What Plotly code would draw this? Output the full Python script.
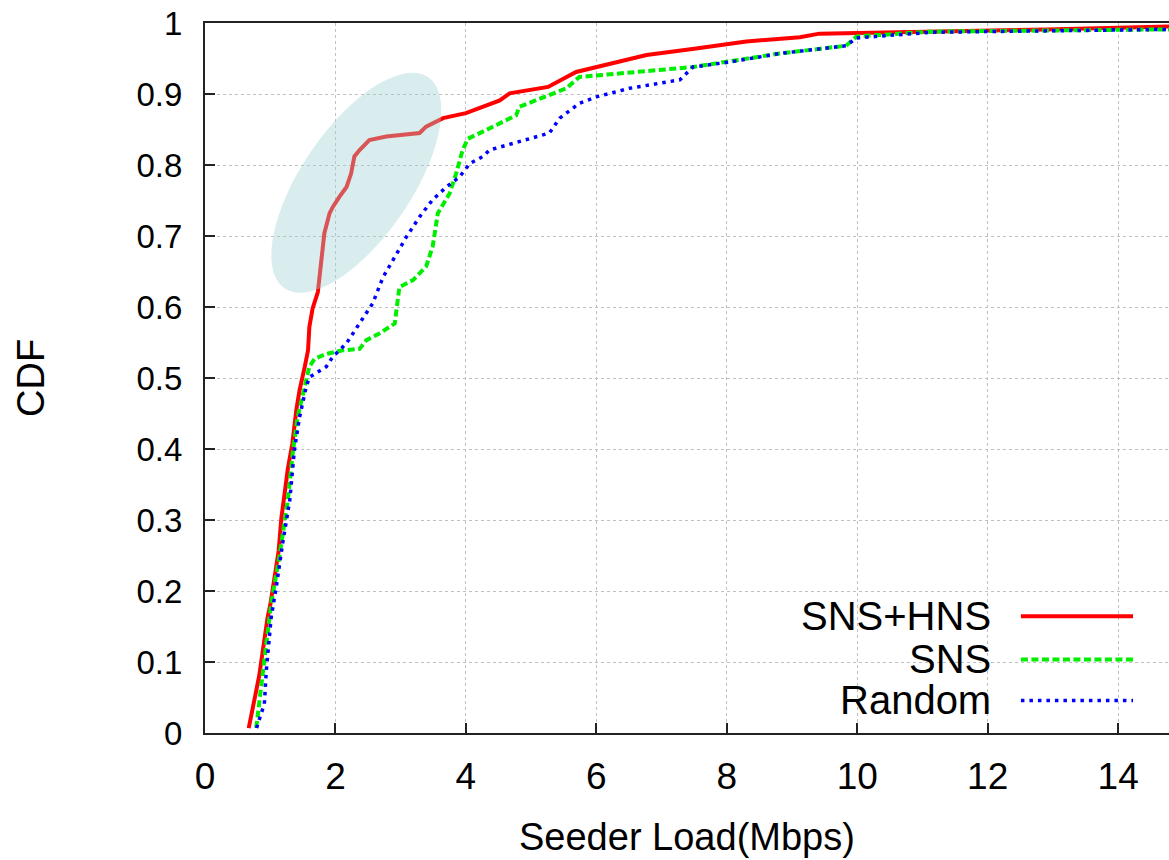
import numpy as np
import plotly.graph_objects as go

# ---- data ----
red_x = [0.67, 0.81, 0.83, 0.96, 1.00, 1.13, 1.17, 1.27, 1.34, 1.40, 1.45, 1.53, 1.58, 1.60, 1.65, 1.73,
         1.78, 1.83, 1.91, 1.96, 2.06, 2.17, 2.24, 2.29, 2.37, 2.52, 2.78, 3.29, 3.39, 3.65, 4.0, 4.21,
         4.52, 4.67, 5.26, 5.69, 6.0, 6.77, 7.53, 8.30, 9.12, 9.42, 10.01, 11.37, 12.9, 14.78]
red_y = [0.007, 0.074, 0.08, 0.163, 0.18, 0.257, 0.302, 0.372, 0.408, 0.455, 0.483, 0.516, 0.539, 0.572,
         0.598, 0.621, 0.657, 0.704, 0.732, 0.741, 0.755, 0.769, 0.788, 0.812, 0.821, 0.835, 0.840, 0.845,
         0.854, 0.866, 0.873, 0.880, 0.891, 0.901, 0.910, 0.931, 0.938, 0.955, 0.964, 0.974, 0.980, 0.985,
         0.986, 0.988, 0.991, 0.995]

green_x = [0.785, 0.86, 0.94, 1.015, 1.14, 1.27, 1.35, 1.42, 1.50, 1.55, 1.60, 1.68, 1.86, 2.11, 2.37, 2.47,
           2.68, 2.91, 2.98, 3.19, 3.39, 3.49, 3.57, 3.75, 3.85, 3.95, 4.03, 4.26, 4.52, 4.77, 4.82, 5.23,
           5.54, 5.74, 6.77, 7.48, 8.81, 9.83, 9.99, 11.16, 14.78]
green_y = [0.007, 0.069, 0.126, 0.182, 0.248, 0.328, 0.398, 0.445, 0.478, 0.499, 0.516, 0.527, 0.534, 0.539,
           0.541, 0.553, 0.563, 0.577, 0.628, 0.638, 0.657, 0.685, 0.732, 0.760, 0.788, 0.821, 0.837, 0.847,
           0.859, 0.870, 0.882, 0.896, 0.908, 0.924, 0.933, 0.938, 0.957, 0.968, 0.981, 0.988, 0.991]

blue_x = [0.79, 0.91, 0.94, 1.015, 1.10, 1.19, 1.30, 1.37, 1.45, 1.50, 1.55, 1.60, 1.86, 1.96, 2.17, 2.37,
          2.57, 2.73, 2.93, 3.09, 3.29, 3.49, 3.70, 3.90, 4.06, 4.26, 4.36, 4.72, 5.28, 5.44, 5.74, 6.0,
          6.51, 7.28, 7.48, 8.04, 8.81, 9.83, 9.99, 11.16, 14.78]
blue_y = [0.007, 0.041, 0.088, 0.163, 0.210, 0.267, 0.328, 0.398, 0.445, 0.469, 0.487, 0.501, 0.516, 0.530,
          0.549, 0.577, 0.605, 0.642, 0.675, 0.699, 0.727, 0.751, 0.769, 0.783, 0.802, 0.812, 0.821, 0.830,
          0.845, 0.866, 0.887, 0.896, 0.908, 0.920, 0.938, 0.945, 0.957, 0.968, 0.979, 0.987, 0.991]

series_names = ["SNS+HNS", "SNS", "Random"]
x_ticks = [0, 2, 4, 6, 8, 10, 12, 14]
y_ticks = [0, 0.1, 0.2, 0.3, 0.4, 0.5, 0.6, 0.7, 0.8, 0.9, 1]
x_title = "Seeder Load(Mbps)"
y_title = "CDF"

# ---- layout geometry ----
W, H = 1169, 860
ML, MR, MT, MB = 205, 0, 23, 127
X_RANGE = [0, 14.78]
Y_RANGE = [0, 1]
plot_w = W - ML - MR
plot_h = H - MT - MB
px_per_x = plot_w / (X_RANGE[1] - X_RANGE[0])
px_per_y = plot_h / (Y_RANGE[1] - Y_RANGE[0])

FONT = "Liberation Sans, Arial, Helvetica, sans-serif"
RED_LINE = dict(color="#ff0000", width=4)
GREEN_LINE = dict(color="#00ee00", width=4, dash="7px,3.5px")
BLUE_LINE = dict(color="#0000ff", width=3.5, dash="3.5px,5px")

fig = go.Figure()
fig.add_trace(go.Scatter(x=red_x, y=red_y, mode="lines", name=series_names[0],
                         line=RED_LINE, showlegend=False))
fig.add_trace(go.Scatter(x=green_x, y=green_y, mode="lines", name=series_names[1],
                         line=GREEN_LINE, showlegend=False))
fig.add_trace(go.Scatter(x=blue_x, y=blue_y, mode="lines", name=series_names[2],
                         line=BLUE_LINE, showlegend=False))

# ---- highlight ellipse (rotated) ----
ell_cx, ell_cy = 2.32, 0.775        # data coords
ell_a_px, ell_b_px, ell_deg = 127.6, 55.1, 55.8
t = np.linspace(0, 2 * np.pi, 121)
th = np.deg2rad(ell_deg)
ex = ell_a_px * np.cos(t) * np.cos(th) - ell_b_px * np.sin(t) * np.sin(th)
ey = ell_a_px * np.cos(t) * np.sin(th) + ell_b_px * np.sin(t) * np.cos(th)
ex = ell_cx + ex / px_per_x
ey = ell_cy + ey / px_per_y
path = "M " + " L ".join(f"{a:.4f},{b:.4f}" for a, b in zip(ex, ey)) + " Z"
shapes = [dict(type="path", path=path, xref="x", yref="y", fillcolor="rgb(160,210,212)",
               opacity=0.4, line=dict(width=0), layer="above")]

# ---- gnuplot-style legend (text left, sample right) ----
shapes.append(dict(type="rect", xref="paper", yref="paper", x0=0.636, x1=0.989, y0=0.012, y1=0.19,
                   fillcolor="white", line=dict(width=0), layer="between"))
leg_rows = [0.1646, 0.1036, 0.0458]
leg_styles = [RED_LINE, GREEN_LINE, BLUE_LINE]
annotations = []
for name, yy, st in zip(series_names, leg_rows, leg_styles):
    annotations.append(dict(text=name, xref="paper", yref="paper", x=0.8175, y=yy, xanchor="right",
                            yanchor="middle", showarrow=False, font=dict(family=FONT, size=40, color="black")))
    shapes.append(dict(type="line", xref="paper", yref="paper", x0=0.8464, x1=0.9627, y0=yy, y1=yy,
                       line=st, layer="above"))

# axis titles
annotations.append(dict(text=x_title, xref="paper", yref="paper", x=0.5, y=-0.146, xanchor="center",
                        yanchor="middle", showarrow=False, font=dict(family=FONT, size=38, color="black")))
annotations.append(dict(text=y_title, xref="paper", yref="paper", x=-0.1805, y=0.5, xanchor="center",
                        yanchor="middle", textangle=-90, showarrow=False,
                        font=dict(family=FONT, size=38, color="black")))

fig.update_layout(
    width=W, height=H,
    margin=dict(l=ML, r=MR, t=MT, b=MB, autoexpand=False),
    paper_bgcolor="white", plot_bgcolor="white",
    font=dict(family=FONT, color="black"),
    shapes=shapes, annotations=annotations,
    showlegend=False,
)
fig.update_xaxes(
    range=X_RANGE, tickvals=x_ticks, ticktext=[str(v) for v in x_ticks],
    showgrid=True, gridcolor="#c0c0c0", griddash="dot", gridwidth=1,
    showline=True, linecolor="#222222", linewidth=2, mirror=True,
    ticks="inside", ticklen=10, tickwidth=1.5, tickcolor="#222222",
    tickfont=dict(family=FONT, size=37), ticklabelstandoff=10, ticklabeloverflow="allow",
    zeroline=False, automargin=False,
)
fig.update_yaxes(
    range=Y_RANGE, tickvals=y_ticks, ticktext=[f"{v:g}" for v in y_ticks],
    showgrid=True, gridcolor="#c0c0c0", griddash="dot", gridwidth=1,
    showline=True, linecolor="#222222", linewidth=2, mirror=False,
    ticks="inside", ticklen=10, tickwidth=1.5, tickcolor="#222222",
    tickfont=dict(family=FONT, size=33), ticklabelstandoff=14, ticklabeloverflow="allow",
    zeroline=False, automargin=False,
)

fig.write_html("out.html", config={"displayModeBar": False},
               post_script="document.body.style.margin='0';document.body.style.overflow='hidden';")
